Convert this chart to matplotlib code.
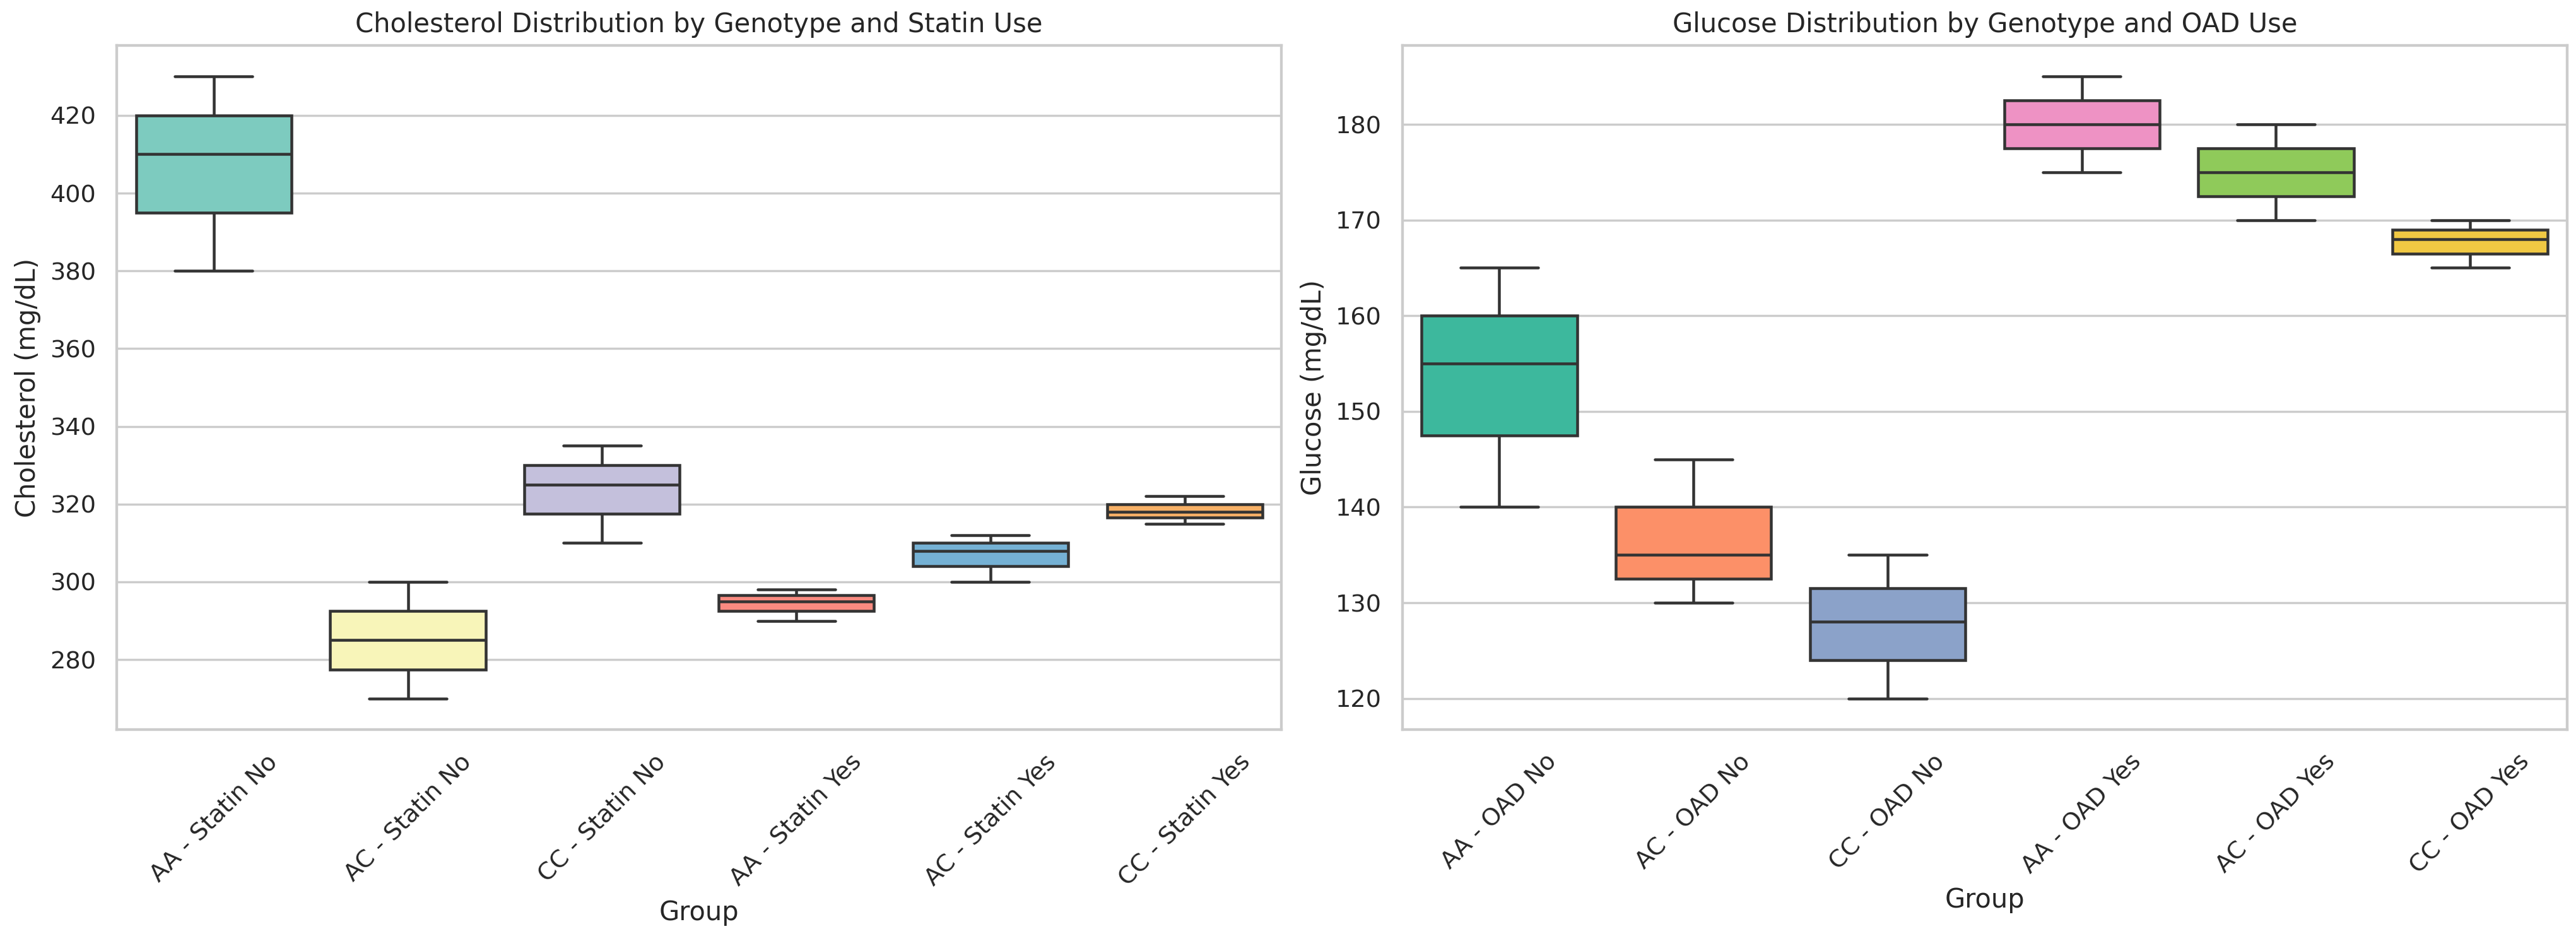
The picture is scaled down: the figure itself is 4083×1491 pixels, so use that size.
import pandas as pd
import matplotlib
matplotlib.use("Agg")
import matplotlib.pyplot as plt
import seaborn as sns

# five values per group (min, q1, median, q3, max)
chol_groups = ["AA - Statin No", "AC - Statin No", "CC - Statin No",
               "AA - Statin Yes", "AC - Statin Yes", "CC - Statin Yes"]
chol_values = [
    [380, 395, 410, 420, 430],
    [270, 277.5, 285, 292.5, 300],
    [310, 317.5, 325, 330, 335],
    [290, 292.5, 295, 296.5, 298],
    [300, 304, 308, 310, 312],
    [315, 316.5, 318, 320, 322],
]

gluc_groups = ["AA - OAD No", "AC - OAD No", "CC - OAD No",
               "AA - OAD Yes", "AC - OAD Yes", "CC - OAD Yes"]
gluc_values = [
    [140, 147.5, 155, 160, 165],
    [130, 132.5, 135, 140, 145],
    [120, 124, 128, 131.5, 135],
    [175, 177.5, 180, 182.5, 185],
    [170, 172.5, 175, 177.5, 180],
    [165, 166.5, 168, 169, 170],
]

chol_colors = ["#7dcbbf", "#f8f5b9", "#c4c0dc", "#f98a80", "#75b1d4", "#f6b066"]
gluc_colors = ["#3db89d", "#fc9068", "#8ba2c9", "#ee92c4", "#8fca5a", "#f0c843"]


def long_table(groups, values, col):
    rows = []
    for g, vals in zip(groups, values):
        for v in vals:
            rows.append({"Group": g, col: v})
    return pd.DataFrame(rows)


df_chol = long_table(chol_groups, chol_values, "Cholesterol")
df_gluc = long_table(gluc_groups, gluc_values, "Glucose")

sns.set_theme(style="whitegrid")
plt.rcParams['font.family'] = ['DejaVu Sans']

fig, axes = plt.subplots(1, 2, figsize=(4083 / 250, 1491 / 250), dpi=250)

ax = axes[0]
sns.boxplot(data=df_chol, x="Group", y="Cholesterol", hue="Group",
            order=chol_groups, palette=chol_colors, saturation=1, legend=False,
            linecolor="#333333", linewidth=1.3, ax=ax)
ax.set_title("Cholesterol Distribution by Genotype and Statin Use")
ax.set_ylabel("Cholesterol (mg/dL)")
ax.set_xlabel("Group")
ax.tick_params(axis='x', rotation=45)

ax = axes[1]
sns.boxplot(data=df_gluc, x="Group", y="Glucose", hue="Group",
            order=gluc_groups, palette=gluc_colors, saturation=1, legend=False,
            linecolor="#333333", linewidth=1.3, ax=ax)
ax.set_title("Glucose Distribution by Genotype and OAD Use")
ax.set_ylabel("Glucose (mg/dL)")
ax.set_xlabel("Group")
ax.tick_params(axis='x', rotation=45)

fig.subplots_adjust(left=0.0453, right=0.9966, bottom=0.2247, top=0.9517, wspace=0.1035)
fig.savefig("out.png", dpi=250)
